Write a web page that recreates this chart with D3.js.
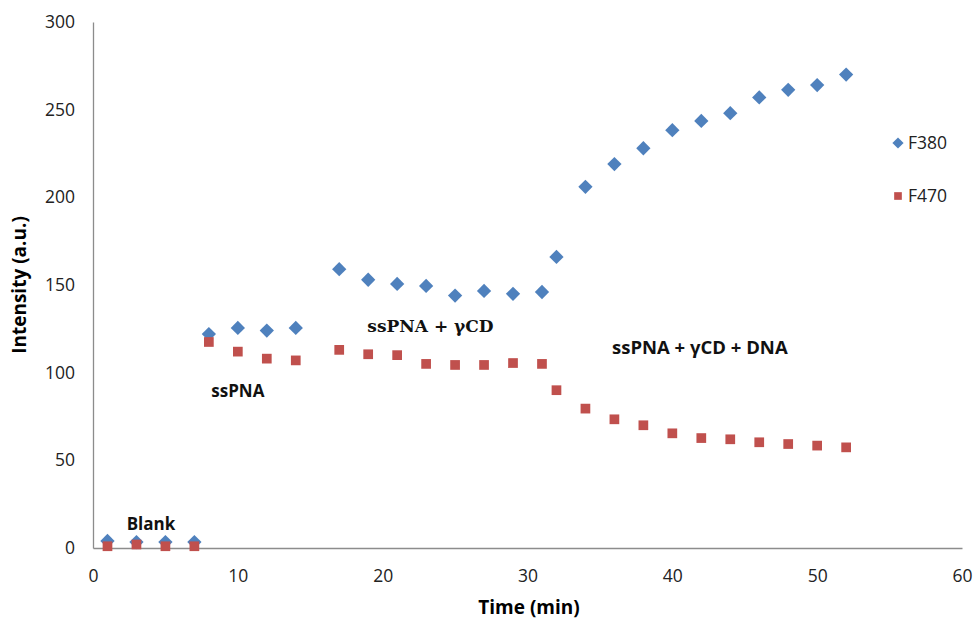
<!DOCTYPE html>
<html>
<head>
<meta charset="utf-8">
<script src="https://cdn.jsdelivr.net/npm/d3@7"></script>
<style>
  body { margin: 0; background: #fff; }
  svg { font-family: "Open Sans", sans-serif; }
  .tick text { font-size: 17.5px; fill: #222; }
</style>
</head>
<body>
<svg id="chart" width="973" height="619"></svg>
<script>
// Time points (min)
const times = [1, 3, 5, 7, 8, 10, 12, 14, 17, 19, 21, 23, 25, 27, 29, 31, 32, 34, 36, 38, 40, 42, 44, 46, 48, 50, 52];
// Fluorescence at 380 nm
const f380 = [4, 3.4, 3.4, 3.4, 122, 125.5, 124, 125.5, 159, 153, 150.6, 149.5, 144, 146.6, 145, 146, 166, 206, 219, 228, 238.3, 243.6, 248, 257, 261.3, 264, 270];
// Fluorescence at 470 nm
const f470 = [1, 2, 1, 1, 117.5, 112, 108, 107, 113, 110.5, 110, 105, 104.4, 104.4, 105.5, 105, 90, 79.5, 73.4, 70, 65.4, 62.7, 62, 60.3, 59.3, 58.4, 57.4];
const xTicks = [0, 10, 20, 30, 40, 50, 60];
const yTicks = [0, 50, 100, 150, 200, 250, 300];

const series = [
    { name: 'F380', values: f380, color: '#4F81BD', symbol: d3.symbolDiamond2 },
    { name: 'F470', values: f470, color: '#C0504D', symbol: d3.symbolSquare2 }
];

// Annotation labels placed in data coordinates
const notes = [
    { text: 'Blank', x: 4.0, y: 10.5, serif: false, size: 17 },
    { text: 'ssPNA', x: 10.0, y: 86, serif: false, size: 17 },
    { text: 'ssPNA + \u03b3CD', x: 23.3, y: 123, serif: true, size: 17 },
    { text: 'ssPNA + \u03b3CD + DNA', x: 41.9, y: 110.5, serif: false, size: 18.5 }
];

const svg = d3.select('#chart');
const x = d3.scaleLinear().domain([0, 60]).range([93, 962]);
const y = d3.scaleLinear().domain([0, 300]).range([548, 22]);

// Axes
const xAxis = svg.append('g')
    .attr('transform', `translate(0,${y(0)})`)
    .call(d3.axisBottom(x).tickValues(xTicks).tickSize(0).tickPadding(22));
const yAxis = svg.append('g')
    .attr('transform', `translate(${x(0)},0)`)
    .call(d3.axisLeft(y).tickValues(yTicks).tickSize(0).tickPadding(18));
[xAxis, yAxis].forEach(a => {
    a.select('.domain').attr('stroke', '#8c8c8c').attr('stroke-width', 1.3);
    a.selectAll('.tick text').attr('font-family', '"Open Sans", sans-serif');
});

// Axis titles
svg.append('text')
    .attr('x', 529).attr('y', 614)
    .attr('text-anchor', 'middle')
    .attr('font-size', 19).attr('font-weight', 'bold')
    .text('Time (min)');
svg.append('text')
    .attr('transform', 'translate(26,285) rotate(-90)')
    .attr('text-anchor', 'middle')
    .attr('font-size', 19).attr('font-weight', 'bold')
    .text('Intensity (a.u.)');

// Markers
series.forEach(s => {
    const sym = d3.symbol().type(s.symbol).size(s.name === 'F380' ? 130 : 120);
    svg.append('g').selectAll('path')
        .data(times.map((t, i) => [t, s.values[i]]))
        .join('path')
        .attr('d', sym)
        .attr('transform', d => `translate(${x(d[0])},${y(d[1])})`)
        .attr('fill', s.color);
});

// Annotations
svg.append('g').selectAll('text')
    .data(notes)
    .join('text')
    .attr('x', d => x(d.x))
    .attr('y', d => y(d.y))
    .attr('text-anchor', 'middle')
    .attr('font-size', d => d.size)
    .attr('font-weight', 'bold')
    .attr('font-family', d => d.serif ? '"DejaVu Serif", "Liberation Serif", serif' : '"Open Sans", sans-serif')
    .attr('fill', '#111')
    .text(d => d.text);

// Legend
const legend = svg.append('g').selectAll('g')
    .data(series)
    .join('g')
    .attr('transform', (d, i) => `translate(898,${143 + i * 53})`);
legend.append('path')
    .attr('d', d => d3.symbol().type(d.symbol).size(d.name === 'F380' ? 80 : 75)())
    .attr('fill', d => d.color);
legend.append('text')
    .attr('x', 10).attr('dy', '0.35em')
    .attr('font-size', 17.5).attr('fill', '#222')
    .text(d => d.name);
</script>
</body>
</html>
